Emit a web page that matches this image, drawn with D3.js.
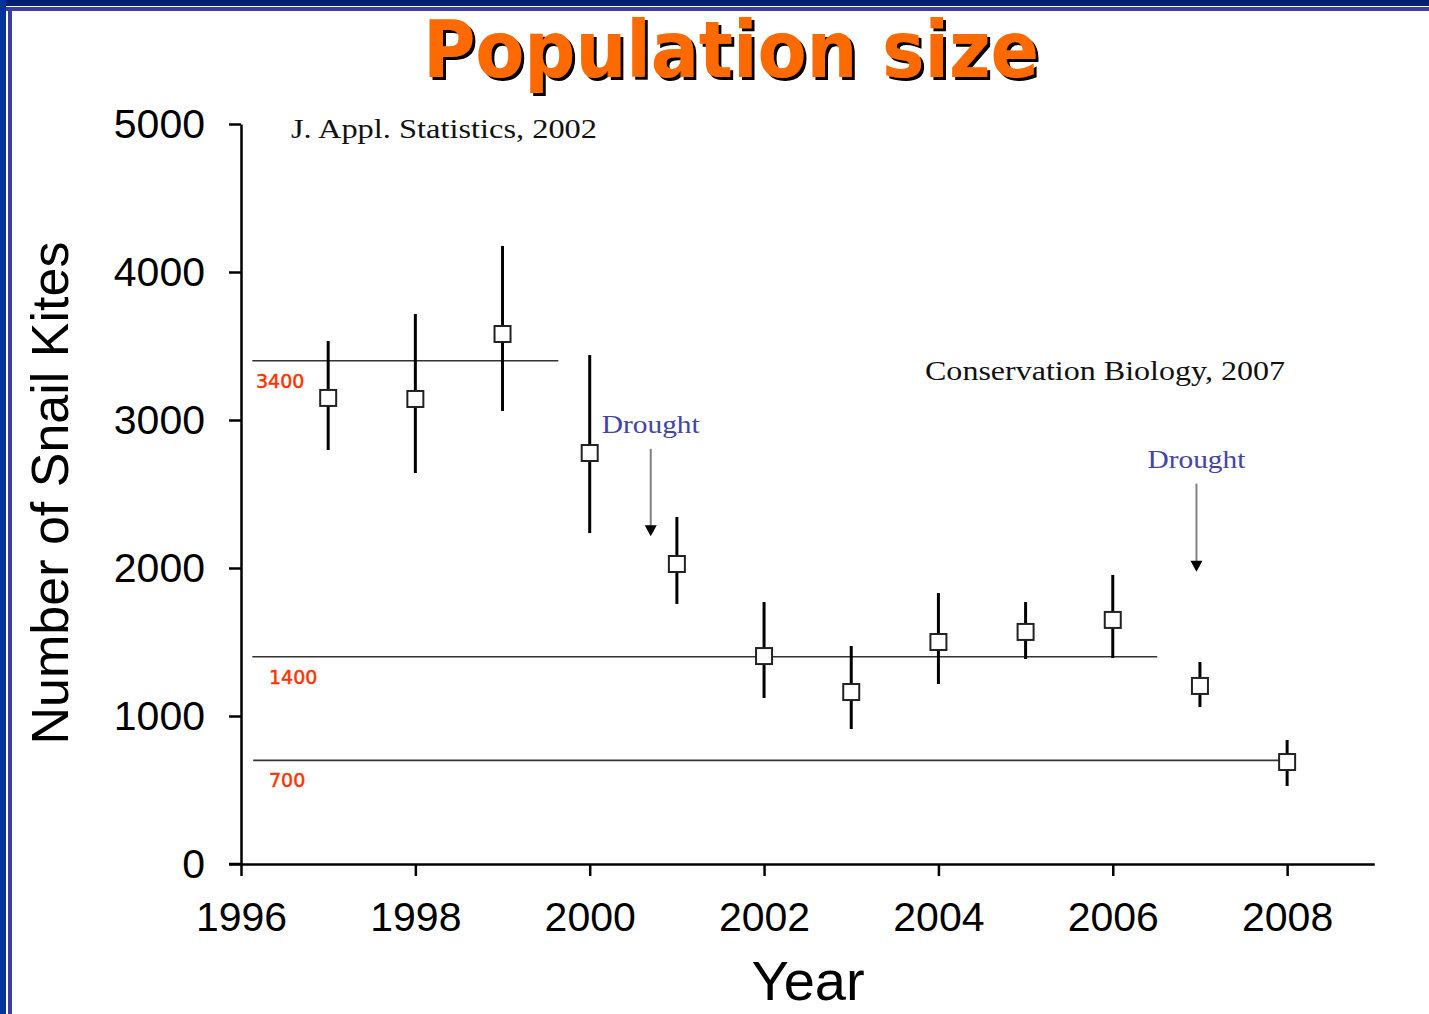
<!DOCTYPE html>
<html>
<head>
<meta charset="utf-8">
<script src="https://cdn.jsdelivr.net/npm/d3@7"></script>
<style>
  body { margin: 0; background: #fff; }
  svg { display: block; }
  .axis path, .axis line { stroke: #000; stroke-width: 2.5; }
  .axis text { font-family: "Liberation Sans", Arial, sans-serif; font-size: 41px; fill: #000; }
</style>
</head>
<body>
<div id="app"></div>
<script>
// survey estimates
const years = [1997, 1998, 1999, 2000, 2001, 2002, 2003, 2004, 2005, 2006, 2007, 2008];
const estimate = [3149, 3142, 3581, 2777, 2027, 1405, 1162, 1500, 1568, 1649, 1203, 689];
const lower = [2797, 2642, 3061, 2236, 1757, 1122, 912, 1216, 1385, 1392, 1061, 527];
const upper = [3534, 3716, 4176, 3439, 2345, 1770, 1473, 1831, 1770, 1953, 1365, 838];

// reference levels and how far they run along the year axis
const refLevels = [3400, 1400, 700];
const refFrom = [1996.13, 1996.13, 1996.14];
const refTo = [1999.64, 2006.51, 2008];

const yTicks = [0, 1000, 2000, 3000, 4000, 5000];
const xTicks = [1996, 1998, 2000, 2002, 2004, 2006, 2008];

// drought arrows: year, top and tip of arrow (population units)
const droughtYear = [2000.7, 2006.96];
const droughtTop = [2805, 2570];
const droughtTip = [2215, 1975];

const W = 1429, H = 1014;

const svg = d3.select('#app')
  .append('svg')
  .attr('width', W)
  .attr('height', H);

const defs = svg.append('defs');
defs.append('filter')
  .attr('id', 'shadow')
  .attr('x', '-5%').attr('y', '-10%').attr('width', '110%').attr('height', '130%')
  .append('feDropShadow')
  .attr('dx', 3).attr('dy', 3)
  .attr('stdDeviation', 0.6)
  .attr('flood-color', '#000')
  .attr('flood-opacity', 1);

// slide frame (top + left)
svg.append('rect').attr('x', 0).attr('y', 0).attr('width', W).attr('height', 6).attr('fill', '#00206b');
svg.append('rect').attr('x', 0).attr('y', 7).attr('width', W).attr('height', 4).attr('fill', '#3c3ca3');
svg.append('rect').attr('x', 0).attr('y', 0).attr('width', 6).attr('height', H).attr('fill', '#003399');
svg.append('rect').attr('x', 8).attr('y', 7).attr('width', 4).attr('height', H).attr('fill', '#3c3ca3');

const xScale = d3.scaleLinear().domain([1996, 2009]).range([241, 1374.3]);
const yScale = d3.scaleLinear().domain([0, 5000]).range([864, 124]);

// title with drop shadow
svg.append('text')
  .attr('x', 731).attr('y', 77)
  .attr('text-anchor', 'middle')
  .attr('font-family', '"DejaVu Sans", sans-serif')
  .attr('font-weight', 'bold')
  .attr('font-size', 78)
  .attr('textLength', 616)
  .attr('lengthAdjust', 'spacingAndGlyphs')
  .attr('fill', '#ff6a00')
  .attr('filter', 'url(#shadow)')
  .text('Population size');

// axes
svg.append('g')
  .attr('class', 'axis')
  .attr('transform', 'translate(241,0)')
  .call(d3.axisLeft(yScale).tickValues(yTicks).tickFormat(d3.format('d')).tickSize(12).tickSizeOuter(0).tickPadding(24));

svg.append('g')
  .attr('class', 'axis')
  .attr('transform', 'translate(0,864)')
  .call(d3.axisBottom(xScale).tickValues(xTicks).tickFormat(d3.format('d')).tickSize(12).tickSizeOuter(0).tickPadding(26));

// extend x axis line left to meet the 0 tick
svg.append('line')
  .attr('x1', 229).attr('x2', 241)
  .attr('y1', 864).attr('y2', 864)
  .attr('stroke', '#000').attr('stroke-width', 2.5);

// axis titles
svg.append('text')
  .attr('transform', 'translate(68,493) rotate(-90)')
  .attr('text-anchor', 'middle')
  .attr('font-family', '"Liberation Sans", Arial, sans-serif')
  .attr('font-size', 52)
  .text('Number of Snail Kites');

svg.append('text')
  .attr('x', 808).attr('y', 1000)
  .attr('text-anchor', 'middle')
  .attr('font-family', '"Liberation Sans", Arial, sans-serif')
  .attr('font-size', 56)
  .text('Year');

// reference lines
const refs = refLevels.map((v, i) => ({ v, from: refFrom[i], to: refTo[i] }));
svg.append('g')
  .selectAll('line')
  .data(refs)
  .enter()
  .append('line')
  .attr('x1', d => xScale(d.from))
  .attr('x2', d => xScale(d.to))
  .attr('y1', d => yScale(d.v))
  .attr('y2', d => yScale(d.v))
  .attr('stroke', '#333')
  .attr('stroke-width', 1.6);

svg.append('g')
  .selectAll('text')
  .data(refs)
  .enter()
  .append('text')
  .attr('x', (d, i) => i === 0 ? 256 : 269)
  .attr('y', d => yScale(d.v) + 27)
  .attr('font-family', '"DejaVu Sans", Verdana, sans-serif')
  .attr('font-size', 19)
  .attr('fill', '#ff3300')
  .attr('stroke', '#ff3300')
  .attr('stroke-width', 0.5)
  .text(d => d.v);

// source notes
svg.append('text')
  .attr('x', 291).attr('y', 138)
  .attr('font-family', '"Liberation Serif", "DejaVu Serif", serif')
  .attr('font-size', 28)
  .attr('textLength', 306)
  .attr('lengthAdjust', 'spacingAndGlyphs')
  .attr('fill', '#111')
  .text('J. Appl. Statistics, 2002');

svg.append('text')
  .attr('x', 925).attr('y', 380)
  .attr('font-family', '"Liberation Serif", "DejaVu Serif", serif')
  .attr('font-size', 28)
  .attr('textLength', 360)
  .attr('lengthAdjust', 'spacingAndGlyphs')
  .attr('fill', '#111')
  .text('Conservation Biology, 2007');

// drought annotations
const droughts = droughtYear.map((yr, i) => ({ yr, top: droughtTop[i], tip: droughtTip[i] }));
const dg = svg.append('g')
  .selectAll('g')
  .data(droughts)
  .enter()
  .append('g');

dg.append('text')
  .attr('x', d => xScale(d.yr))
  .attr('y', d => yScale(d.top) - 16)
  .attr('text-anchor', 'middle')
  .attr('font-family', '"Liberation Serif", "DejaVu Serif", serif')
  .attr('font-size', 26)
  .attr('textLength', 98)
  .attr('lengthAdjust', 'spacingAndGlyphs')
  .attr('fill', '#4444a8')
  .text('Drought');

dg.append('line')
  .attr('x1', d => xScale(d.yr))
  .attr('x2', d => xScale(d.yr))
  .attr('y1', d => yScale(d.top))
  .attr('y2', d => yScale(d.tip) - 8)
  .attr('stroke', '#808080')
  .attr('stroke-width', 2);

dg.append('path')
  .attr('d', d => {
    const x = xScale(d.yr), y = yScale(d.tip);
    return `M${x - 6},${y - 11}L${x + 6},${y - 11}L${x},${y}Z`;
  })
  .attr('fill', '#000');

// error bars and squares
const points = years.map((yr, i) => ({ yr, est: estimate[i], lo: lower[i], hi: upper[i] }));

svg.append('g')
  .selectAll('line')
  .data(points)
  .enter()
  .append('line')
  .attr('x1', d => xScale(d.yr))
  .attr('x2', d => xScale(d.yr))
  .attr('y1', d => yScale(d.hi))
  .attr('y2', d => yScale(d.lo))
  .attr('stroke', '#000')
  .attr('stroke-width', 3);

svg.append('g')
  .selectAll('rect')
  .data(points)
  .enter()
  .append('rect')
  .attr('x', d => xScale(d.yr) - 8)
  .attr('y', d => yScale(d.est) - 8)
  .attr('width', 16)
  .attr('height', 16)
  .attr('fill', '#fff')
  .attr('stroke', '#222')
  .attr('stroke-width', 2);
</script>
</body>
</html>
